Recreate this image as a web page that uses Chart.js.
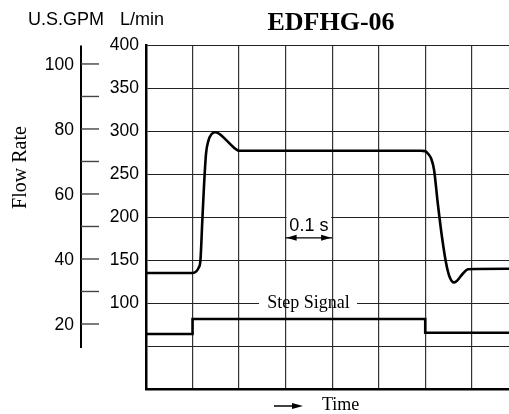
<!DOCTYPE html>
<html>
<head>
<meta charset="utf-8">
<title>EDFHG-06</title>
<script src="https://cdn.jsdelivr.net/npm/chart.js@4"></script>
<style>
  body { margin: 0; background: #fff; }
  #wrap { width: 509px; height: 414px; position: relative; }
</style>
</head>
<body>
<div id="wrap"><canvas id="flowChart"></canvas></div>
<script>
// flow response (time in s, flow in L/min)
var flowTime = [0, 0.1, 0.108, 0.113, 0.117, 0.121, 0.1245, 0.129, 0.134, 0.141, 0.150, 0.159, 0.173, 0.187, 0.200,
                0.590, 0.600, 0.606, 0.613, 0.619, 0.627, 0.636, 0.645, 0.652, 0.662, 0.670, 0.681, 0.692, 0.780];
var flowValue = [135, 135, 137, 141, 150, 196, 235, 274, 289, 297, 299, 296.5, 289.5, 282, 277.5,
                 277.5, 277, 274, 268, 255, 216, 177, 146, 131, 124, 127, 134.5, 139.5, 140];

// step signal drawn on the same scale
var stepTime = [0, 0.1, 0.1, 0.6, 0.6, 0.78];
var stepValue = [64, 64, 81.5, 81.5, 65.5, 65.5];

// left hand US gallon scale
var gpmTicks = [20, 30, 40, 50, 60, 70, 80, 90, 100];
var gpmLabels = [20, 40, 60, 80, 100];
var lpmPerGpm = 3.785;

var lpmLabels = [100, 150, 200, 250, 300, 350, 400];

function toPoints(xs, ys) {
  return xs.map(function (t, i) { return { x: t, y: ys[i] }; });
}

function arrowHead(ctx, tipX, tipY, dir, len, half) {
  ctx.beginPath();
  ctx.moveTo(tipX, tipY);
  ctx.lineTo(tipX - dir * len, tipY - half);
  ctx.lineTo(tipX - dir * len, tipY + half);
  ctx.closePath();
  ctx.fill();
}

var sans = '"Liberation Sans", Arial, sans-serif';
var serif = '"Liberation Serif", "Times New Roman", serif';

var annotate = {
  id: 'annotate',
  afterDraw: function (chart) {
    var ctx = chart.ctx;
    var x = chart.scales.x, y = chart.scales.y;
    var area = chart.chartArea;
    ctx.save();

    // --- gpm axis ---
    var axX = 81;
    ctx.strokeStyle = '#000';
    ctx.lineWidth = 2;
    ctx.beginPath();
    ctx.moveTo(axX, y.getPixelForValue(400));
    ctx.lineTo(axX, y.getPixelForValue(47.7));
    ctx.stroke();
    ctx.strokeStyle = '#444';
    ctx.lineWidth = 1.4;
    gpmTicks.forEach(function (g) {
      var py = y.getPixelForValue(g * lpmPerGpm);
      ctx.beginPath();
      ctx.moveTo(axX, py);
      ctx.lineTo(99, py);
      ctx.stroke();
    });
    ctx.fillStyle = '#000';
    ctx.font = '17.5px ' + sans;
    ctx.textAlign = 'right';
    ctx.textBaseline = 'middle';
    gpmLabels.forEach(function (g) {
      ctx.fillText(String(g), 74, y.getPixelForValue(g * lpmPerGpm) + 1);
    });

    // --- header texts ---
    ctx.textAlign = 'left';
    ctx.font = '18px ' + sans;
    ctx.fillText('U.S.GPM', 28, 20);
    ctx.fillText('L/min', 120, 20);

    ctx.textAlign = 'center';
    ctx.font = 'bold 26px ' + serif;
    ctx.fillText('EDFHG-06', 331, 23);

    // axis title
    ctx.save();
    ctx.translate(20, 167.5);
    ctx.rotate(-Math.PI / 2);
    ctx.font = '20px ' + serif;
    ctx.fillText('Flow Rate', 0, 1);
    ctx.restore();

    // --- Step Signal label over the 100 line ---
    var sy = y.getPixelForValue(100);
    ctx.fillStyle = '#fff';
    ctx.fillRect(259, sy - 2, 98, 4);
    ctx.strokeStyle = '#333';
    ctx.lineWidth = 1.2;
    x.ticks.forEach(function (t) {
      var px = x.getPixelForValue(t.value);
      if (px > 259 && px < 357) {
        ctx.beginPath();
        ctx.moveTo(px, sy - 3);
        ctx.lineTo(px, sy + 3);
        ctx.stroke();
      }
    });
    ctx.fillStyle = '#000';
    ctx.font = '18px ' + serif;
    ctx.fillText('Step Signal', 308.5, sy);

    // --- 0.1 s marker ---
    var x1 = x.getPixelForValue(0.3), x2 = x.getPixelForValue(0.4);
    var gy = y.getPixelForValue(200);
    ctx.fillStyle = '#fff';
    ctx.fillRect(x1 + 1, gy - 2, x2 - x1 - 2, 4);
    ctx.fillStyle = '#000';
    ctx.font = '18px ' + sans;
    ctx.fillText('0.1 s', (x1 + x2) / 2, gy + 9);
    var ay = y.getPixelForValue(176);
    ctx.strokeStyle = '#000';
    ctx.lineWidth = 1.3;
    ctx.beginPath();
    ctx.moveTo(x1, ay);
    ctx.lineTo(x2, ay);
    ctx.stroke();
    arrowHead(ctx, x1 + 1, ay, -1, 10, 3);
    arrowHead(ctx, x2 - 1, ay, 1, 10, 3);

    // --- Time label under the axis ---
    var ty = area.bottom + 17;
    ctx.lineWidth = 1.5;
    ctx.beginPath();
    ctx.moveTo(274, ty);
    ctx.lineTo(296, ty);
    ctx.stroke();
    arrowHead(ctx, 303, ty, 1, 11, 3);
    ctx.textAlign = 'left';
    ctx.font = '18px ' + serif;
    ctx.fillText('Time', 322, ty - 1);

    ctx.restore();
  }
};

var ctx = document.getElementById('flowChart');
var flowChart = new Chart(ctx, {
  type: 'line',
  data: {
    datasets: [{
      label: 'Flow',
      data: toPoints(flowTime, flowValue),
      borderColor: '#000',
      borderWidth: 2.6,
      pointRadius: 0,
      cubicInterpolationMode: 'monotone',
      fill: false
    }, {
      label: 'Step Signal',
      data: toPoints(stepTime, stepValue),
      borderColor: '#000',
      borderWidth: 2.6,
      pointRadius: 0,
      tension: 0,
      fill: false
    }]
  },
  options: {
    responsive: true,
    maintainAspectRatio: false,
    animation: false,
    layout: { padding: { top: 45.5, left: 0, right: 0, bottom: 0 } },
    plugins: {
      legend: { display: false },
      title: { display: false },
      tooltip: { enabled: false }
    },
    scales: {
      x: {
        type: 'linear',
        min: 0,
        max: 0.78,
        ticks: { display: false, stepSize: 0.1, includeBounds: false },
        grid: { color: '#333', lineWidth: 1.2, tickLength: 0, drawTicks: false },
        border: { color: '#000', width: 2.5 },
        afterFit: function (s) { s.height = 25; }
      },
      y: {
        min: 0,
        max: 400,
        ticks: {
          stepSize: 50,
          padding: 7,
          color: '#000',
          font: { family: sans, size: 17.5 },
          callback: function (v) { return lpmLabels.indexOf(v) >= 0 ? String(v) : ''; }
        },
        grid: { color: '#222', lineWidth: 1.1, tickLength: 0, drawTicks: false },
        border: { color: '#000', width: 2.5 },
        afterFit: function (s) { s.width = 146; }
      }
    }
  },
  plugins: [annotate]
});
</script>
</body>
</html>
